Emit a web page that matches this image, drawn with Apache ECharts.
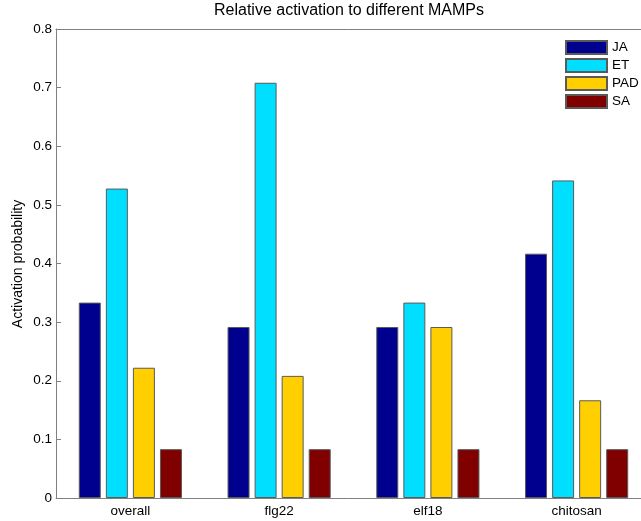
<!DOCTYPE html>
<html>
<head>
<meta charset="utf-8">
<script src="https://cdn.jsdelivr.net/npm/echarts@6/dist/echarts.min.js"></script>
<style>
  html, body { margin: 0; padding: 0; background: #fff; }
  #chart { width: 641px; height: 521px; }
</style>
</head>
<body>
<div id="chart"></div>
<script>
// MAMP groups and activation probability per response pathway
const categories = ['overall', 'flg22', 'elf18', 'chitosan'];
const seriesNames = ['JA', 'ET', 'PAD', 'SA'];
const jaValues  = [0.3333, 0.2917, 0.2917, 0.4167];
const etValues  = [0.5278, 0.7083, 0.3333, 0.5417];
const padValues = [0.2222, 0.2083, 0.2917, 0.1667];
const saValues  = [0.0833, 0.0833, 0.0833, 0.0833];
const yTicks = [0, 0.1, 0.2, 0.3, 0.4, 0.5, 0.6, 0.7, 0.8];

const colors = ['#00008f', '#00dfff', '#ffcf00', '#800000'];
const valueSets = [jaValues, etValues, padValues, saValues];
const font = 'Liberation Sans, Arial, sans-serif';
const axisGrey = '#808080';

const chart = echarts.init(document.getElementById('chart'), null, { renderer: 'canvas' });

const series = seriesNames.map((name, i) => ({
  name: name,
  type: 'bar',
  data: valueSets[i],
  barWidth: 22,
  barGap: '23%',
  itemStyle: { color: colors[i], borderColor: '#5a5a5a', borderWidth: 1 },
  emphasis: { disabled: true }
}));

chart.setOption({
  animation: false,
  textStyle: { fontFamily: font },
  // the axes box runs a little past the right edge of the canvas
  grid: {
    left: 56, top: 29, width: 595, height: 469,
    outerBoundsMode: 'none',
    show: false
  },
  graphic: [
    { type: 'text', x: 349, y: 11, style: { text: 'Relative activation to different MAMPs', font: '16px ' + font, fill: '#000', align: 'center', verticalAlign: 'middle' } },
    { type: 'text', x: 18, y: 264, rotation: Math.PI / 2, style: { text: 'Activation probability', font: '14px ' + font, fill: '#000', align: 'center', verticalAlign: 'middle' } }
  ],
  legend: {
    data: seriesNames,
    orient: 'vertical',
    left: 560,
    top: 35,
    itemWidth: 41,
    itemHeight: 13,
    itemGap: 3,
    icon: 'rect',
    textStyle: { fontSize: 13.5, color: '#000', fontFamily: font }
  },
  xAxis: [
    {
      type: 'category',
      data: categories,
      position: 'bottom',
      axisLine: { lineStyle: { color: axisGrey } },
      axisTick: { inside: true, alignWithLabel: true, length: 5, lineStyle: { color: axisGrey } },
      axisLabel: { color: '#000', fontSize: 13.5, margin: 6 }
    },
    {
      type: 'category',
      data: categories,
      position: 'top',
      axisLine: { lineStyle: { color: axisGrey } },
      axisTick: { inside: true, alignWithLabel: true, length: 5, lineStyle: { color: axisGrey } },
      axisLabel: { show: false }
    }
  ],
  yAxis: {
    type: 'value',
    min: yTicks[0],
    max: yTicks[yTicks.length - 1],
    interval: 0.1,
    splitLine: { show: false },
    axisLine: { show: true, lineStyle: { color: axisGrey } },
    axisTick: { show: true, inside: true, length: 5, lineStyle: { color: axisGrey } },
    axisLabel: { color: '#000', fontSize: 13.5, margin: 4, formatter: v => String(Math.round(v * 10) / 10) }
  },
  series: series
});
</script>
</body>
</html>
